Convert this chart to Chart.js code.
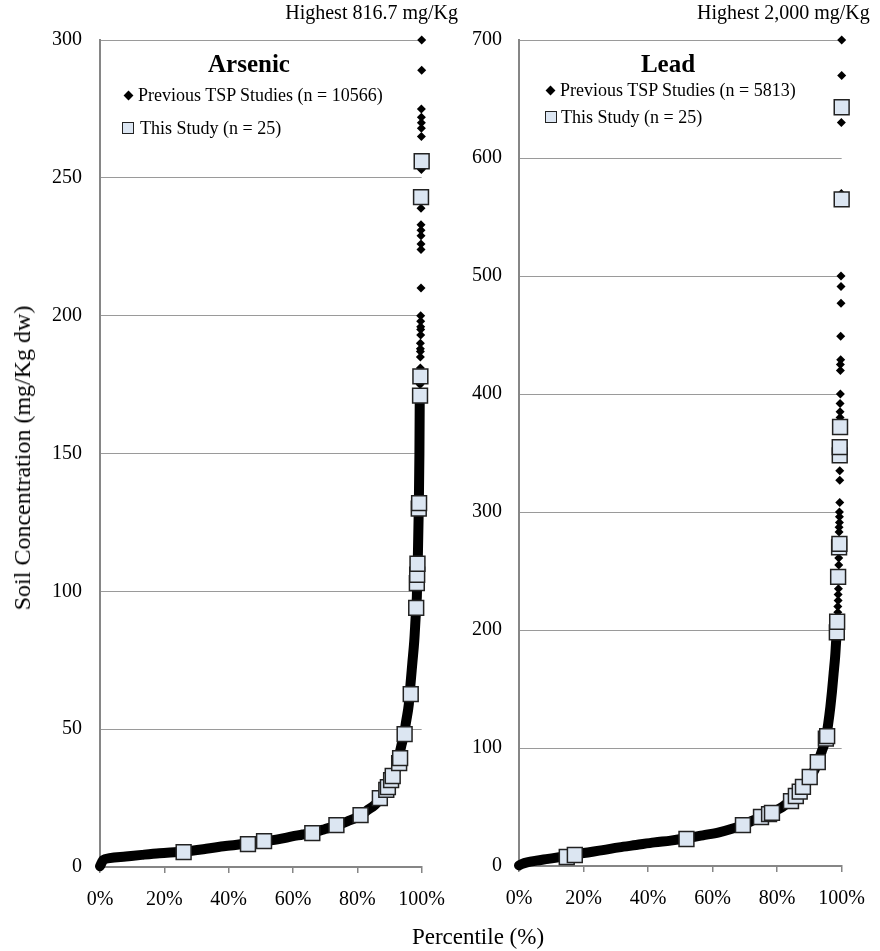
<!DOCTYPE html>
<html lang="en">
<head>
    <meta charset="UTF-8">
    <title>Arsenic and Lead Soil Concentration Percentiles</title>
    <script src="https://cdn.jsdelivr.net/npm/chart.js"></script>
    <style>
        body { margin: 0; background: #fff; font-family: 'Liberation Serif', 'Times New Roman', serif; color: #000; }
        #wrap { position: relative; width: 880px; height: 951px; overflow: hidden; }
        canvas { position: absolute; top: 0; }
        .txt { position: absolute; white-space: nowrap; line-height: 1; }
        .title { font-weight: bold; font-size: 25px; transform: translateX(-50%); }
        .leg { font-size: 18px; }
        .dia { position: absolute; width: 7px; height: 7px; background: #000; transform: rotate(45deg); }
        .sq { position: absolute; width: 10px; height: 10px; background: #dce6f2; border: 1.5px solid #222; }
    </style>
</head>
<body>
<div id="wrap">
    <canvas id="arsenicChart" width="460" height="951" style="left:0"></canvas>
    <canvas id="leadChart" width="440" height="951" style="left:440px"></canvas>

    <div class="txt" style="font-size:20px; right:422px; top:2px;">Highest 816.7 mg/Kg</div>
    <div class="txt" style="font-size:20px; left:697px; top:2px;">Highest 2,000 mg/Kg</div>

    <div class="txt title" style="left:249px; top:51px;">Arsenic</div>
    <div class="dia" style="left:125px; top:92px;"></div>
    <div class="txt leg" style="left:138px; top:86px;">Previous TSP Studies (n = 10566)</div>
    <div class="sq" style="left:122px; top:122px;"></div>
    <div class="txt leg" style="left:140px; top:119px;">This Study (n = 25)</div>

    <div class="txt title" style="left:668px; top:51px;">Lead</div>
    <div class="dia" style="left:547px; top:87px;"></div>
    <div class="txt leg" style="left:560px; top:81px;">Previous TSP Studies (n = 5813)</div>
    <div class="sq" style="left:545px; top:111px;"></div>
    <div class="txt leg" style="left:561px; top:108px;">This Study (n = 25)</div>

    <div class="txt" style="font-size:24px; left:22px; top:458px; transform: translate(-50%, -50%) rotate(-90deg);">Soil Concentration (mg/Kg dw)</div>
    <div class="txt" style="font-size:23px; left:478px; top:936px; transform: translate(-50%, -50%);">Percentile (%)</div>
</div>

<script>
    // Arsenic - previous TSP studies, dense part of the curve (percentile %, mg/Kg)
    const asPrevPct = [0, 0.5, 1, 3, 8, 13, 18.5, 26, 33, 39, 46, 51, 56, 59.7, 63, 66, 70, 73.5, 77, 81, 83, 85.4, 87, 89, 90.5, 91.6, 92.6, 93.6, 94.5, 95.2, 96, 96.5, 97.1, 97.7, 98.1, 98.5, 98.8, 99.1, 99.3, 99.4];
    const asPrevVal = [0.3, 1.5, 2.5, 3.2, 3.8, 4.4, 5, 5.6, 6.6, 7.6, 8.5, 9.3, 10.2, 11.1, 11.8, 12.5, 13.8, 15, 16.6, 18.8, 20.5, 22.5, 24.5, 28, 31, 34, 38.5, 43.6, 48, 53, 59, 66, 74, 82, 90, 98, 112, 130, 150, 170];
    // Arsenic - previous TSP studies, scattered high values
    const asTailPct = [99.5, 99.6, 99.6, 99.6, 99.6, 99.6, 99.7, 99.7, 99.7, 99.7, 99.7, 99.8, 99.8, 99.8, 99.8, 99.8, 99.8, 99.8, 99.9, 99.9, 99.9, 99.9, 99.9, 99.9, 100, 100];
    const asTailVal = [175, 181, 185, 187, 188, 190, 193, 195, 196, 198, 200, 210, 224, 226, 229, 231, 233, 239, 253, 265, 268, 270, 272, 275, 289, 300];
    // Arsenic - this study
    const asThisPct = [26, 46, 51, 66, 73.5, 81, 87, 89, 89.5, 90.5, 91, 93, 93.3, 94.7, 96.6, 98.3, 98.5, 98.6, 98.7, 99.1, 99.2, 99.5, 99.6, 99.8, 100];
    const asThisVal = [5.4, 8.3, 9.4, 12.3, 15.2, 18.8, 25, 28, 29, 31.5, 33, 37.7, 39.5, 48.2, 62.7, 94, 103, 106, 110, 130, 132, 171, 178, 243, 256];

    // Lead - previous TSP studies, dense part of the curve
    const pbPrevPct = [0, 1, 2.5, 5.4, 9, 14.8, 20, 26, 31, 36.3, 42, 47, 51.9, 57, 62, 66, 69.4, 72, 75, 78.4, 81.6, 84, 85.8, 88, 90.1, 91.5, 92.6, 93.8, 95.1, 95.8, 96.5, 97, 97.5, 98, 98.3, 98.6];
    const pbPrevVal = [0.5, 1.8, 3, 4.5, 6, 8.5, 11, 13.5, 15.8, 17.8, 20, 21.5, 23.5, 26, 28.5, 31.5, 34.7, 38, 41.5, 45.5, 50, 55, 59.3, 67, 75.4, 81, 88, 97, 108, 120, 135, 148, 163, 178, 191, 200];
    // Lead - previous TSP studies, scattered high values
    const pbTailPct = [98.7, 98.8, 98.8, 98.9, 98.9, 99, 99.1, 99.1, 99.2, 99.2, 99.3, 99.3, 99.3, 99.4, 99.4, 99.4, 99.5, 99.5, 99.5, 99.6, 99.6, 99.6, 99.7, 99.7, 99.8, 99.8, 99.8, 99.9, 99.9, 100, 100];
    const pbTailVal = [205, 215, 220, 225, 230, 235, 255, 261, 283, 287, 291, 296, 300, 308, 327, 335, 380, 385, 392, 400, 420, 425, 429, 449, 477, 491, 500, 570, 630, 670, 700];
    // Lead - this study
    const pbThisPct = [14.8, 17.3, 51.9, 69.4, 75, 77.5, 78.4, 84.3, 85.8, 87, 88, 90.1, 92.6, 95.1, 95.5, 98.5, 98.6, 98.9, 99.2, 99.3, 99.4, 99.4, 99.5, 100, 100];
    const pbThisVal = [7.6, 9.3, 22.9, 34.7, 41.5, 44, 45, 55, 59.3, 63, 67, 75.4, 88, 108, 110, 198, 207, 245, 270, 273, 348, 355, 372, 565, 643];

    const xTicks = [0, 20, 40, 60, 80, 100];

    const FONT = 'Liberation Serif';
    const AXIS_GRAY = '#868686';
    const GRID_GRAY = '#9a9a9a';

    function toPoints(xs, ys) {
        return xs.map((x, i) => ({ x: x, y: ys[i] }));
    }

    function makeChart(id, cfg) {
        const ctx = document.getElementById(id).getContext('2d');
        return new Chart(ctx, {
            type: 'scatter',
            data: {
                datasets: [
                    {
                        label: 'This Study (n = 25)',
                        data: toPoints(cfg.thisPct, cfg.thisVal),
                        pointStyle: 'rect',
                        pointRadius: 10.5,
                        backgroundColor: '#dce6f2',
                        borderColor: '#222',
                        borderWidth: 1.5,
                        clip: false
                    },
                    {
                        label: 'Previous TSP Studies (tail)',
                        data: toPoints(cfg.tailPct, cfg.tailVal),
                        pointStyle: 'rectRot',
                        pointRadius: 4.5,
                        backgroundColor: '#000',
                        borderColor: '#000',
                        borderWidth: 0,
                        clip: false
                    },
                    {
                        label: 'Previous TSP Studies',
                        data: toPoints(cfg.prevPct, cfg.prevVal),
                        showLine: true,
                        cubicInterpolationMode: 'monotone',
                        borderColor: '#000',
                        borderWidth: 10,
                        borderCapStyle: 'round',
                        borderJoinStyle: 'round',
                        pointStyle: 'rectRot',
                        pointRadius: 4.5,
                        backgroundColor: '#000',
                        pointBorderWidth: 0,
                        clip: false
                    }
                ]
            },
            options: {
                responsive: false,
                animation: false,
                devicePixelRatio: 1,
                layout: { padding: { top: 40, right: cfg.padRight, bottom: 0, left: 0 } },
                plugins: { legend: { display: false }, tooltip: { enabled: false } },
                scales: {
                    x: {
                        type: 'linear',
                        min: 0,
                        max: 100,
                        afterBuildTicks: axis => { axis.ticks = xTicks.map(v => ({ value: v })); },
                        afterFit: axis => { axis.height = cfg.xHeight; },
                        ticks: {
                            callback: v => v + '%',
                            font: { family: FONT, size: 20 },
                            color: '#000',
                            padding: 15,
                            maxRotation: 0
                        },
                        grid: { drawOnChartArea: false, drawTicks: true, tickLength: 6, color: AXIS_GRAY, lineWidth: 1.5 },
                        border: { color: AXIS_GRAY, width: 2 }
                    },
                    y: {
                        type: 'linear',
                        min: 0,
                        max: cfg.yMax,
                        afterBuildTicks: axis => { axis.ticks = cfg.yTicks.map(v => ({ value: v })); },
                        afterFit: axis => { axis.width = cfg.yWidth; },
                        ticks: {
                            font: { family: FONT, size: 20 },
                            color: '#000',
                            padding: cfg.yPad
                        },
                        grid: { drawTicks: false, color: GRID_GRAY, lineWidth: 1 },
                        border: { color: AXIS_GRAY, width: 2 }
                    }
                }
            }
        });
    }

    makeChart('arsenicChart', {
        prevPct: asPrevPct, prevVal: asPrevVal,
        tailPct: asTailPct, tailVal: asTailVal,
        thisPct: asThisPct, thisVal: asThisVal,
        yMax: 300, yTicks: [0, 50, 100, 150, 200, 250, 300],
        yWidth: 100, yPad: 18, xHeight: 84, padRight: 33
    });

    makeChart('leadChart', {
        prevPct: pbPrevPct, prevVal: pbPrevVal,
        tailPct: pbTailPct, tailVal: pbTailVal,
        thisPct: pbThisPct, thisVal: pbThisVal,
        yMax: 700, yTicks: [0, 100, 200, 300, 400, 500, 600, 700],
        yWidth: 79, yPad: 17, xHeight: 85, padRight: 37
    });
</script>
</body>
</html>
